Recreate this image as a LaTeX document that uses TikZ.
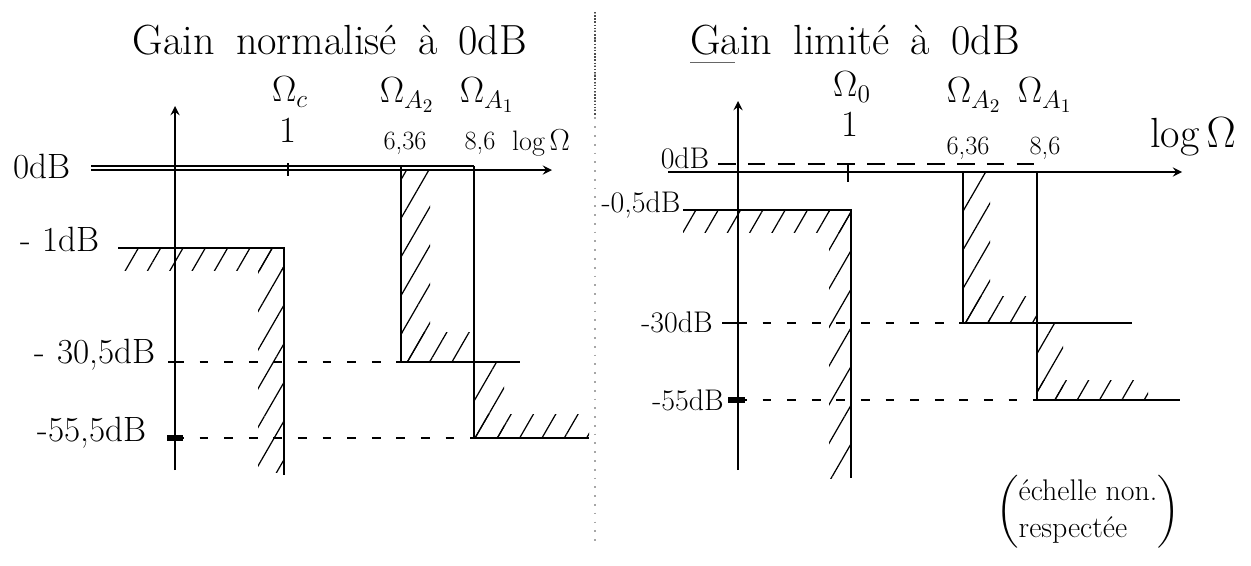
\documentclass[tikz,border=0pt]{standalone}
\usepackage{amsmath}
\usepackage{fontspec}
\usepackage{tikz}
\usetikzlibrary{patterns.meta}

\tikzset{
  axis/.style={line width=1.3pt},
  gabarit/.style={line width=1.6pt},
  guide/.style={line width=0.6pt, dash pattern=on 5pt off 9pt},
  hatch/.style={pattern={Lines[angle=60,distance=11pt,line width=0.7pt]}},
  title/.style={inner sep=0pt, font=\fontsize{24}{28}\selectfont\addfontfeature{LetterSpace=4}},
  lab/.style={inner sep=0pt, font=\fontsize{20}{24}\selectfont\addfontfeature{LetterSpace=8}},
  labr/.style={inner sep=0pt, font=\fontsize{17}{20}\selectfont\addfontfeature{LetterSpace=6}},
  omega/.style={inner sep=0pt, font=\fontsize{21}{25}\selectfont},
  unit/.style={inner sep=0pt, font=\fontsize{21}{25}\selectfont},
  freq/.style={inner sep=0pt, font=\fontsize{15}{18}\selectfont},
}

\begin{document}
\begin{tikzpicture}[x=0.02cm, y=-0.02cm, >=stealth]
  \useasboundingbox (0,0) rectangle (1251,565);

  % ---- left: gain normalised at 0dB
  \node[title] (t1) at (330,40) {Gain\enspace normalisé\enspace à\enspace 0dB};
  % hatched bands
  \path[hatch] (118,248) rectangle (284,270);
  \path[hatch] (258,248) rectangle (284,472);
  \path[hatch] (401,169) rectangle (430,362);
  \path[hatch] (401,332) rectangle (474,362);
  \path[hatch] (474,362) rectangle (504,438);
  \path[hatch] (474,414) rectangle (589,438);
  % axes
  \draw[axis,->] (175,470) -- (175,106);
  \draw[axis,->] (91,170) -- (552,170);
  \draw[axis] (91,166) -- (474,166);
  \draw[axis] (288,163) -- (288,176);
  % template
  \draw[gabarit] (118,248) -- (284,248) -- (284,475);
  \draw[gabarit] (401,166) -- (401,362) -- (520,362);
  \draw[gabarit] (474,166) -- (474,438) -- (589,438);
  \draw[guide] (175,362) -- (401,362);
  \draw[guide] (175,438) -- (474,438);
  \draw[axis] (168,362) -- (182,362);
  \draw[line width=3pt] (167,438) -- (183,438);
  % labels
  \node[lab] (z1) at (42,167) {0dB};
  \node[lab] (a1) at (60,239) {-\,\,1dB};
  \node[lab] (b1) at (95,355) {-\,\,30,5dB};
  \node[lab] (c1) at (92,433) {-55,5dB};
  \node[omega] (wc1) at (290,92) {$\Omega_c$};
  \node[unit] (u1) at (288,130) {1};
  \node[omega] (wa21) at (407,95) {$\Omega_{A_2}$};
  \node[omega] (wa11) at (487,95) {$\Omega_{A_1}$};
  \node[freq] (f21) at (405,143) {6,36};
  \node[freq] (f11) at (480,143) {8,6};
  \node[freq, font=\fontsize{16}{19}\selectfont] (lw1) at (541,143) {log\,$\Omega$};

  % separator
  \draw[black!35, line width=0.6pt, dash pattern=on 1pt off 4pt] (595,12) -- (595,545);
  \draw[black!70, line width=0.8pt, densely dotted] (595,12) -- (595,115);

  % ---- right: gain limited at 0dB
  \node[title, anchor=west] (t2) at (690,40) {Gain\enspace limité\enspace à\enspace 0dB};
  \draw[black!60, line width=1pt] ([yshift=-4pt]t2.south west) -- ++(45,0);
  % hatched bands
  \path[hatch] (683,210) rectangle (851,232);
  \path[hatch] (829,210) rectangle (851,478);
  \path[hatch] (963,172) rectangle (990,323);
  \path[hatch] (963,296) rectangle (1037,323);
  \path[hatch] (1037,323) rectangle (1063,400);
  \path[hatch] (1037,380) rectangle (1148,400);
  % axes
  \draw[axis,->] (738,470) -- (738,101);
  \draw[axis,->] (668,172) -- (1182,172);
  \draw[axis] (848,164) -- (848,182);
  \draw[line width=1.3pt, dash pattern=on 10pt off 7pt] (718,164) -- (1037,164);
  % template
  \draw[gabarit] (683,210) -- (851,210) -- (851,478);
  \draw[gabarit] (963,172) -- (963,323) -- (1132,323);
  \draw[gabarit] (1037,172) -- (1037,400) -- (1180,400);
  \draw[guide] (738,323) -- (963,323);
  \draw[guide, line width=1pt] (738,400) -- (1037,400);
  \draw[axis] (722,323) -- (738,323);
  \draw[line width=3pt] (728,400) -- (745,400);
  % labels
  \node[labr] (z2) at (685,158) {0dB};
  \node[labr] (a2) at (641,205) {-0,5dB};
  \node[labr] (b2) at (677,322) {-30dB};
  \node[labr] (c2) at (688,400) {-55dB};
  \node[omega] (wc2) at (852,87) {$\Omega_0$};
  \node[unit] (u2) at (850,124) {1};
  \node[omega] (wa22) at (974,95) {$\Omega_{A_2}$};
  \node[omega] (wa12) at (1045,95) {$\Omega_{A_1}$};
  \node[freq] (f22) at (968,148) {6,36};
  \node[freq] (f12) at (1045,148) {8,6};
  \node[freq, font=\fontsize{24}{28}\selectfont] (lw2) at (1193,137) {log\,$\Omega$};
  \node[freq, font=\fontsize{17}{21}\selectfont\addfontfeature{LetterSpace=4}] (note) at (1088,512)
    {$\left(\vcenter{\hbox{\begin{tabular}{@{}l@{}}échelle non.\\ respectée\end{tabular}}}\right)$};
\end{tikzpicture}
\end{document}
